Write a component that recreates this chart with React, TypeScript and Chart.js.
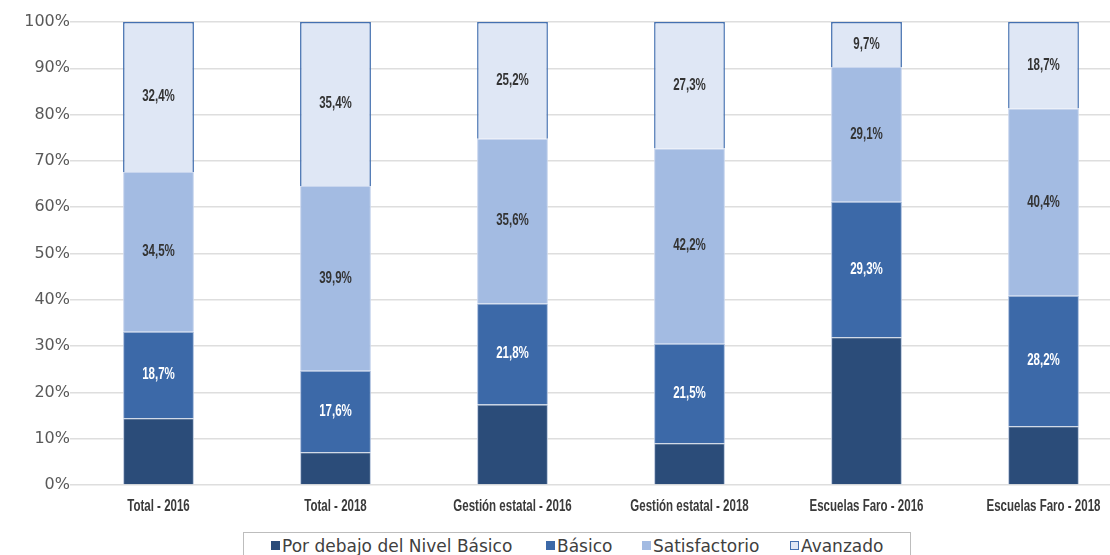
import React, { useEffect, useRef } from "react";
import { Chart, registerables } from "chart.js";

Chart.register(...registerables);

const categories = [
  "Total - 2016",
  "Total - 2018",
  "Gestión estatal - 2016",
  "Gestión estatal - 2018",
  "Escuelas Faro - 2016",
  "Escuelas Faro - 2018",
];
const porDebajo = [14.4, 7.1, 17.4, 9.0, 31.9, 12.7];
const basico = [18.7, 17.6, 21.8, 21.5, 29.3, 28.2];
const satisfactorio = [34.5, 39.9, 35.6, 42.2, 29.1, 40.4];
const avanzado = [32.4, 35.4, 25.2, 27.3, 9.7, 18.7];

const seriesNames = ["Por debajo del Nivel Básico", "Básico", "Satisfactorio", "Avanzado"];
const seriesColors = ["#2b4c79", "#3c69a8", "#a3bbe2", "#dfe7f5"];
const seriesBorders = ["#b9c6dc", "#a9bddd", "#c9d6ee", "#4470b0"];
const labelColors = [null, "#ffffff", "#333333", "#333333"];
const legendX = [271, 546, 642, 790];

const fmt = (v: number) => v.toFixed(1).replace(".", ",") + "%";

const NARROW = 0.72;
function narrowText(ctx: any, text: string, x: number, y: number) {
  ctx.save();
  ctx.translate(x, y);
  ctx.scale(NARROW, 1);
  ctx.fillText(text, 0, 0);
  ctx.restore();
}

const dataLabelPlugin = {
  id: "segLabels",
  afterDatasetsDraw(chart: any) {
    const ctx = chart.ctx;
    ctx.save();
    ctx.font = "bold 16px 'Liberation Sans'";
    ctx.textAlign = "center";
    ctx.textBaseline = "middle";
    chart.data.datasets.forEach((ds: any, i: number) => {
      const col = labelColors[i];
      if (!col) return;
      const meta = chart.getDatasetMeta(i);
      meta.data.forEach((el: any, j: number) => {
        ctx.fillStyle = col;
        narrowText(ctx, fmt(ds.data[j]), el.x, (el.y + el.base) / 2);
      });
    });
    ctx.restore();
  },
  afterDraw(chart: any) {
    const ctx = chart.ctx;
    const xs = chart.scales.x;
    ctx.save();
    ctx.font = "bold 16px 'Liberation Sans'";
    ctx.textAlign = "center";
    ctx.textBaseline = "middle";
    ctx.fillStyle = "#3a3a3a";
    chart.data.labels.forEach((lab: string, i: number) => {
      narrowText(ctx, lab, xs.getPixelForTick(i), xs.top + 22);
    });
    ctx.restore();
  },
};

export default function App() {
  const ref = useRef<HTMLCanvasElement>(null);
  useEffect(() => {
    const values = [porDebajo, basico, satisfactorio, avanzado];
    const chart = new Chart(ref.current!, {
      type: "bar",
      data: {
        labels: categories,
        datasets: values.map((d, i) => ({
          label: seriesNames[i],
          data: d,
          backgroundColor: seriesColors[i],
          borderColor: seriesBorders[i],
          borderWidth: i === 3 ? 1.5 : 1,
          categoryPercentage: 1,
          barPercentage: 0.4,
        })),
      },
      options: {
        animation: false,
        responsive: false,
        layout: { padding: { top: 22, left: 15, right: 0, bottom: 0 } },
        plugins: { legend: { display: false }, tooltip: { enabled: false } },
        scales: {
          x: {
            stacked: true,
            grid: { display: false },
            border: { display: false },
            ticks: { display: false },
            afterFit: (s: any) => {
              s.height = 40;
            },
          },
          y: {
            stacked: true,
            min: 0,
            max: 100,
            grid: { color: "#dedede", lineWidth: 1.5, drawTicks: false },
            border: { display: false },
            ticks: {
              stepSize: 10,
              color: "#595959",
              font: { family: "'DejaVu Sans'", size: 16 },
              padding: 0,
              callback: (v: any) => v + "%",
            },
            afterFit: (s: any) => {
              s.width = 55;
            },
          },
        },
      },
      plugins: [dataLabelPlugin],
    });
    return () => chart.destroy();
  }, []);

  return (
    <div
      style={{
        position: "fixed",
        left: 0,
        top: 0,
        width: 1110,
        height: 555,
        overflow: "hidden",
        background: "#ffffff",
      }}
    >
      <canvas
        ref={ref}
        width={1132}
        height={525}
        style={{ position: "absolute", left: 0, top: 0, width: 1132, height: 525 }}
      />
      <div
        style={{
          position: "absolute",
          left: 243,
          top: 532,
          width: 668,
          height: 40,
          border: "1px solid #bdbdbd",
          boxSizing: "border-box",
        }}
      />
      {seriesNames.map((n, i) => (
        <div
          key={n}
          style={{
            position: "absolute",
            left: legendX[i],
            top: 536,
            display: "flex",
            alignItems: "center",
            fontFamily: "'DejaVu Sans'",
            fontSize: 17,
            lineHeight: "20px",
            color: "#404040",
            whiteSpace: "nowrap",
          }}
        >
          <span
            style={{
              display: "inline-block",
              width: i === 3 ? 7 : 9,
              height: i === 3 ? 7 : 9,
              background: seriesColors[i],
              border: i === 3 ? "1px solid " + seriesBorders[3] : "none",
              marginRight: 2,
              marginTop: -2,
            }}
          />
          <span>{n}</span>
        </div>
      ))}
    </div>
  );
}
